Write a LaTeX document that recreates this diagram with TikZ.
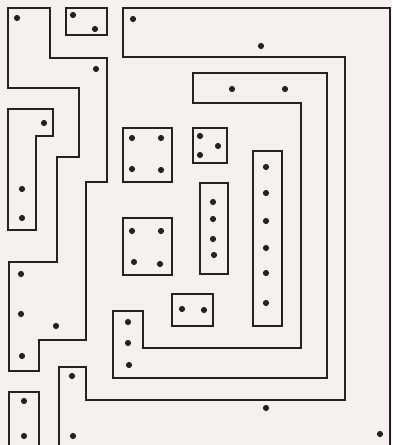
\documentclass[tikz,border=0pt]{standalone}
\definecolor{bg}{HTML}{F6F1EF}
\definecolor{ink}{HTML}{262222}
\begin{document}
\begin{tikzpicture}[x=1pt,y=-1pt,
  trace/.style={draw=ink,line width=1.2pt,line join=miter},
  pad/.style={fill=ink}]
\fill[bg] (0,0) rectangle (392,445);
\useasboundingbox (0,0) rectangle (392,445);
% top-left strip
\draw[trace] (8,8) -- (50,8) -- (50,58) -- (107,58) -- (107,182) -- (86,182) -- (86,340) -- (39,340) -- (39,371) -- (9,371) -- (9,262) -- (57,262) -- (57,157) -- (79,157) -- (79,88) -- (8,88) -- cycle;
% small top box
\draw[trace] (66,8) rectangle (107,35);
% left L
\draw[trace] (8,109) -- (53,109) -- (53,136) -- (36,136) -- (36,230) -- (8,230) -- cycle;
% bottom-left box
\draw[trace] (9,445) -- (9,392) -- (39,392) -- (39,445);
% big outer region
\draw[trace] (390,445) -- (390,8) -- (123,8) -- (123,57) -- (345,57) -- (345,400) -- (86,400) -- (86,367) -- (59,367) -- (59,445);
% second nested strip
\draw[trace] (193,73) -- (327,73) -- (327,378) -- (113,378) -- (113,311) -- (143,311) -- (143,348) -- (301,348) -- (301,103) -- (193,103) -- cycle;
% inner boxes
\draw[trace] (123,128) rectangle (172,182);
\draw[trace] (123,218) rectangle (172,275);
\draw[trace] (193,128) rectangle (227,163);
\draw[trace] (200,183) rectangle (228,274);
\draw[trace] (253,151) rectangle (282,326);
\draw[trace] (172,294) rectangle (213,326);
% pads
\foreach \p in {(17,18),(96,69),(21,274),(21,314),(56,326),(22,356),
  (73,15),(95,29),
  (44,123),(22,189),(22,218),
  (24,401),(24,436),
  (133,19),(261,46),(266,408),(380,434),(72,376),(73,436),
  (232,89),(285,89),(128,322),(128,343),(129,365),
  (132,138),(161,138),(132,169),(161,170),
  (132,231),(161,231),(134,262),(160,264),
  (200,136),(218,146),(200,155),
  (213,202),(213,219),(213,239),(214,255),
  (266,167),(266,193),(266,221),(266,248),(266,273),(266,303),
  (182,309),(204,310)}
  \fill[pad] \p circle (3.1);
\end{tikzpicture}
\end{document}
